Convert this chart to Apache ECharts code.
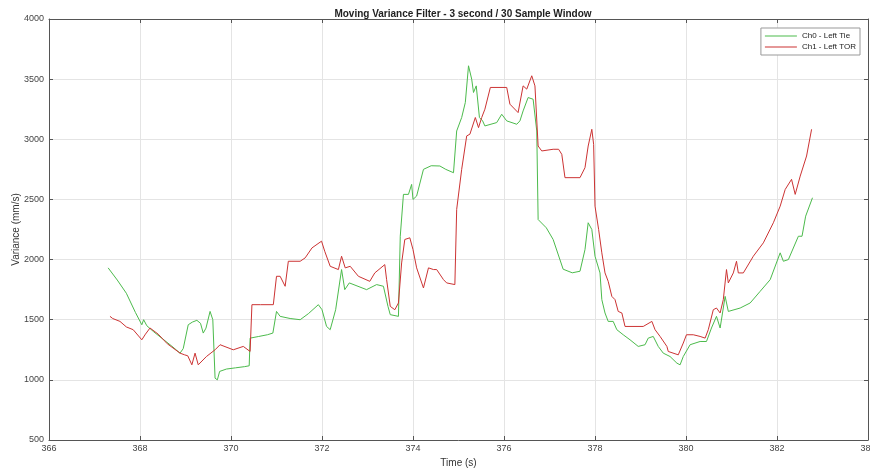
<!DOCTYPE html>
<html><head><meta charset="utf-8">
<script src="https://cdn.jsdelivr.net/npm/echarts@6/dist/echarts.min.js"></script>
<style>html,body{margin:0;padding:0;background:#fff}#c{width:870px;height:471px}</style>
</head><body><div id="c"></div>
<script>
var titleText = 'Moving Variance Filter - 3 second / 30 Sample Window';
var seriesNames = ['Ch0 - Left Tie', 'Ch1 - Left TOR'];
var xTicks = [366, 368, 370, 372, 374, 376, 378, 380, 382, 384];
var yTicks = [500, 1000, 1500, 2000, 2500, 3000, 3500, 4000];

var ch0Time = [367.30,367.5,367.7,367.9,368.04,368.08,368.15,368.3,368.5,368.7,368.88,368.95,369.06,369.15,369.25,369.33,369.39,369.45,369.54,369.6,369.65,369.7,369.75,369.9,370.1,370.3,370.4,370.42,370.6,370.8,370.92,371.0,371.08,371.3,371.52,371.7,371.92,372.0,372.1,372.18,372.3,372.43,372.5,372.6,372.98,373.2,373.35,373.45,373.5,373.68,373.72,373.79,373.9,373.97,374.0,374.08,374.23,374.4,374.59,374.72,374.89,374.96,375.07,375.15,375.22,375.29,375.33,375.39,375.46,375.53,375.58,375.84,375.95,376.06,376.28,376.35,376.42,376.53,376.64,376.72,376.75,376.93,377.08,377.3,377.5,377.67,377.78,377.85,377.93,378.0,378.11,378.15,378.22,378.29,378.4,378.48,378.62,378.77,378.95,379.1,379.17,379.28,379.39,379.5,379.65,379.8,379.87,379.94,380.09,380.31,380.45,380.56,380.67,380.75,380.86,380.9,380.93,381.19,381.41,381.63,381.85,382.07,382.14,382.25,382.47,382.55,382.63,382.78];
var ch0Values = [1931,1830,1720,1560,1458,1500,1450,1400,1340,1280,1222,1260,1458,1480,1495,1470,1389,1430,1569,1500,1014,1000,1070,1090,1100,1110,1117,1347,1360,1375,1389,1569,1528,1510,1500,1550,1625,1583,1444,1417,1583,1917,1750,1806,1750,1792,1778,1611,1542,1528,2194,2542,2542,2625,2500,2528,2750,2780,2778,2750,2722,3069,3181,3306,3611,3500,3389,3444,3181,3153,3111,3139,3208,3153,3125,3153,3236,3347,3333,3069,2333,2264,2167,1920,1890,1903,2083,2306,2250,2028,1889,1667,1556,1486,1486,1417,1375,1333,1278,1292,1347,1361,1278,1222,1194,1139,1125,1194,1292,1319,1319,1431,1528,1431,1694,1708,1569,1597,1639,1736,1833,2056,1986,2000,2194,2194,2361,2514];

var ch1Time = [367.34,367.4,367.56,367.7,367.85,368.04,368.12,368.22,368.4,368.6,368.88,368.98,369.05,369.14,369.21,369.28,369.46,369.65,369.76,370.05,370.27,370.42,370.46,370.65,370.93,371.0,371.04,371.08,371.19,371.26,371.52,371.63,371.78,371.99,372.06,372.18,372.36,372.43,372.51,372.62,372.8,373.05,373.16,373.38,373.42,373.5,373.6,373.68,373.75,373.82,373.93,374.0,374.08,374.23,374.34,374.45,374.52,374.67,374.74,374.92,374.96,375.07,375.18,375.25,375.37,375.44,375.51,375.58,375.7,376.06,376.13,376.31,376.42,376.5,376.61,376.68,376.75,376.83,377.08,377.2,377.27,377.34,377.67,377.78,377.85,377.93,377.97,378.0,378.08,378.15,378.22,378.29,378.37,378.44,378.51,378.59,378.66,379.06,379.25,379.32,379.43,379.58,379.61,379.83,379.94,380.01,380.16,380.31,380.42,380.49,380.6,380.67,380.75,380.82,380.89,380.93,381.04,381.11,381.15,381.26,381.48,381.7,381.92,382.07,382.18,382.32,382.4,382.51,382.65,382.76];
var ch1Values = [1528,1510,1486,1440,1417,1333,1380,1431,1380,1300,1222,1208,1200,1125,1222,1125,1194,1250,1292,1250,1278,1236,1625,1625,1625,1861,1875,1861,1778,1986,1986,2014,2097,2153,2069,1944,1917,2028,1931,1944,1861,1819,1889,1958,1833,1611,1583,1639,1972,2167,2181,2083,1931,1764,1931,1917,1917,1833,1806,1792,2417,2750,3028,3042,3181,3097,3181,3250,3431,3431,3292,3222,3444,3417,3528,3444,2944,2903,2917,2917,2875,2681,2681,2764,2944,3083,2958,2444,2250,2056,1889,1819,1694,1667,1569,1556,1444,1444,1486,1417,1361,1278,1236,1208,1306,1375,1375,1361,1347,1417,1583,1597,1556,1667,1917,1806,1889,1986,1889,1889,2028,2139,2306,2444,2583,2667,2542,2694,2861,3083];

function pairs(t, v) { return t.map(function (x, i) { return [x, v[i]]; }); }

var chart = echarts.init(document.getElementById('c'));
var axisCol = '#555';
var fam = 'Liberation Sans, Arial, sans-serif';
var lblStyle = { color: '#444', fontSize: 9, fontFamily: fam, formatter: function (v) { return String(v); } };
var green = '#4cbb4c', red = '#cc3333';
chart.setOption({
  animation: false,
  backgroundColor: '#fff',
  title: { text: titleText, left: 458, textAlign: 'center', top: 4,
    textStyle: { fontSize: 10, fontWeight: 'bold', color: '#222', fontFamily: fam } },
  legend: {
    data: [{ name: seriesNames[0], itemStyle: { color: green } }, { name: seriesNames[1], itemStyle: { color: red } }],
    icon: 'rect', orient: 'vertical', right: 10, top: 28, itemWidth: 32, itemHeight: 1, itemGap: 1,
    padding: [3, 4, 3, 4], borderColor: '#999', borderWidth: 1, backgroundColor: '#fff',
    textStyle: { fontSize: 8, color: '#222', fontFamily: fam, lineHeight: 10 } },
  grid: { left: 49, top: 19, right: 2, bottom: 31, show: false, outerBoundsMode: 'none', containLabel: false },
  xAxis: [{
    type: 'value', min: xTicks[0], max: xTicks[xTicks.length - 1], interval: 2,
    name: 'Time (s)', nameLocation: 'middle', nameGap: 18, nameMoveOverlap: false,
    nameTextStyle: { fontSize: 10, color: '#333', fontFamily: fam },
    axisLine: { lineStyle: { color: axisCol, width: 1 } },
    axisTick: { inside: true, length: 4, lineStyle: { color: axisCol } },
    axisLabel: Object.assign({ margin: 4, hideOverlap: false }, lblStyle),
    splitLine: { show: true, lineStyle: { color: '#e4e4e4', width: 1 } }
  }, {
    type: 'value', position: 'top', min: xTicks[0], max: xTicks[xTicks.length - 1], interval: 2,
    axisLine: { show: true, lineStyle: { color: axisCol, width: 1 } },
    axisTick: { inside: true, length: 4, lineStyle: { color: axisCol } },
    axisLabel: { show: false }, splitLine: { show: false }
  }],
  yAxis: [{
    type: 'value', min: yTicks[0], max: yTicks[yTicks.length - 1], interval: 500,
    name: 'Variance (mm/s)', nameLocation: 'middle', nameGap: 28, nameMoveOverlap: false,
    nameTextStyle: { fontSize: 10, color: '#333', fontFamily: fam },
    axisLine: { show: true, lineStyle: { color: axisCol, width: 1 } },
    axisTick: { show: true, inside: true, length: 4, lineStyle: { color: axisCol } },
    axisLabel: Object.assign({ margin: 5 }, lblStyle),
    splitLine: { show: true, lineStyle: { color: '#e4e4e4', width: 1 } }
  }, {
    type: 'value', position: 'right', min: yTicks[0], max: yTicks[yTicks.length - 1], interval: 500,
    axisLine: { show: true, lineStyle: { color: axisCol, width: 1 } },
    axisTick: { show: true, inside: true, length: 4, lineStyle: { color: axisCol } },
    axisLabel: { show: false }, splitLine: { show: false }
  }],
  series: [{
    name: seriesNames[0], type: 'line', symbol: 'none', data: pairs(ch0Time, ch0Values),
    lineStyle: { color: green, width: 1 }, itemStyle: { color: green }
  }, {
    name: seriesNames[1], type: 'line', symbol: 'none', data: pairs(ch1Time, ch1Values),
    lineStyle: { color: red, width: 1 }, itemStyle: { color: red }
  }]
});
</script></body></html>
